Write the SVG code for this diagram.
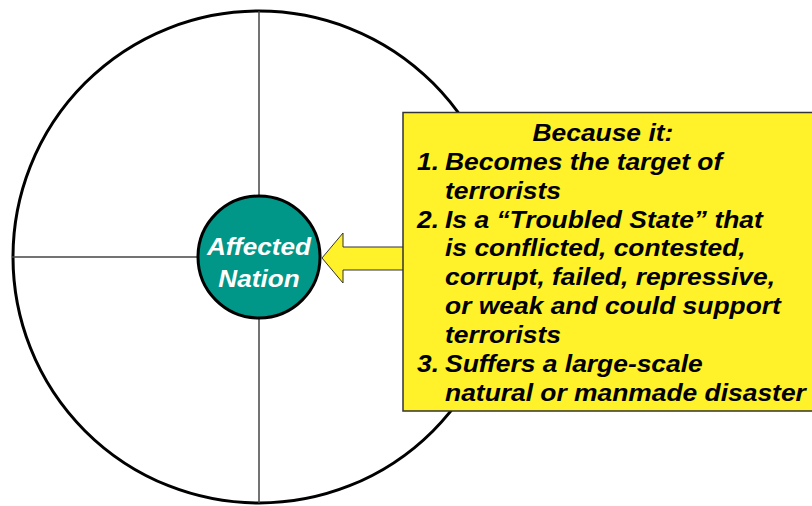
<svg xmlns="http://www.w3.org/2000/svg" width="812" height="506" viewBox="0 0 812 506">
<style>
.t{font-family:"Liberation Sans",Arial,sans-serif;font-weight:bold;font-style:italic;font-size:24px;fill:#000}
.w{font-family:"Liberation Sans",Arial,sans-serif;font-weight:bold;font-style:italic;font-size:24px;fill:#fff}
.ax{stroke:#444;stroke-width:1.5;fill:none}
</style>
<rect width="812" height="506" fill="#fff"/>
<g id="outer">
<circle cx="259" cy="257" r="246" fill="#fff" stroke="#000" stroke-width="3"/>
<line class="ax" x1="259" y1="11" x2="259" y2="196"/>
<line class="ax" x1="259" y1="318" x2="259" y2="503"/>
<line class="ax" x1="12" y1="257" x2="198" y2="257"/>
</g>
<g id="connectors">
<polygon points="322,258 343,233 343,247 404,247 404,270 343,270 343,283" fill="#FFF22A" stroke="#333" stroke-width="1"/>
</g>
<g id="nation">
<circle cx="259" cy="257" r="61" fill="#009688" stroke="#000" stroke-width="3"/>
<g transform="translate(259,0) scale(1.09,1)">
<text class="w" x="0" y="255" text-anchor="middle">Affected</text>
<text class="w" x="0" y="287" text-anchor="middle">Nation</text>
</g>
</g>
<g id="because">
<rect x="403" y="112.5" width="412" height="298.5" fill="#FFF22A" stroke="#333" stroke-width="1.5"/>
<g transform="translate(417,0) scale(1.1,1)">
<text class="t" x="169" y="141" text-anchor="middle">Because it:</text>
<text class="t" x="0" y="170">1.</text>
<text class="t" x="25.5" y="170">Becomes the target of</text>
<text class="t" x="25.5" y="199">terrorists</text>
<text class="t" x="0" y="228">2.</text>
<text class="t" x="25.5" y="228">Is a “Troubled State” that</text>
<text class="t" x="25.5" y="256.5">is conflicted, contested,</text>
<text class="t" x="25.5" y="285">corrupt, failed, repressive,</text>
<text class="t" x="25.5" y="314">or weak and could support</text>
<text class="t" x="25.5" y="343">terrorists</text>
<text class="t" x="0" y="372">3.</text>
<text class="t" x="25.5" y="372">Suffers a large-scale</text>
<text class="t" x="25.5" y="401">natural or manmade disaster</text>
</g>
</g>
</svg>
